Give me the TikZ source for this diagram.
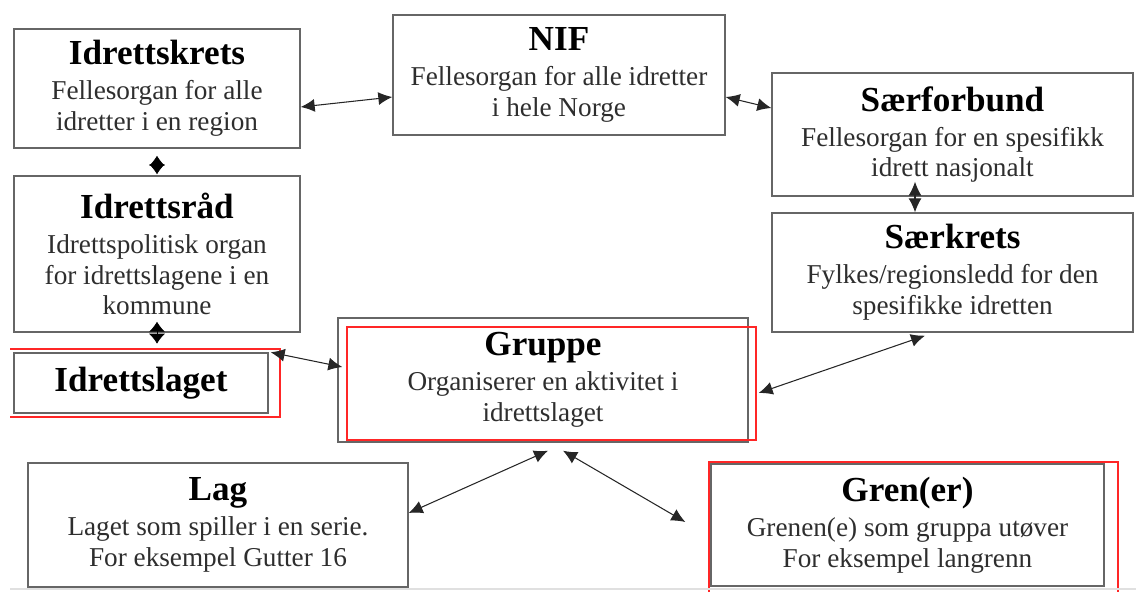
\documentclass[tikz,border=0pt]{standalone}
\usepackage{fontspec}
\setmainfont{Liberation Serif}
\usetikzlibrary{arrows.meta,positioning}
\tikzset{>={Latex[width=2.6mm,length=2.8mm]}}
\tikzset{unit/.style={shape=rectangle, draw=black!60, line width=.8pt,
    fill=white, align=center, inner sep=0pt, text=black!82,
    font=\fontsize{15.5}{17.5}\selectfont}}
\tikzset{link/.style={<->, draw=black!85, line width=.6pt}}
\tikzset{joint/.style={{Latex[width=3.2mm,length=2mm]}-{Latex[width=3.2mm,length=2mm]},
    draw=black}}
\tikzset{frame/.style={draw=red!85, line width=.9pt}}
\newcommand{\tittel}[1]{{\color{black}\fontsize{20}{22}\selectfont\bfseries #1}}

\begin{document}
\begin{tikzpicture}[x=0.02cm, y=-0.02cm]
    \useasboundingbox (0,0) rectangle (1136,592);
    % venstre kolonne
    \node[unit, minimum width=5.72cm, minimum height=2.38cm] (krets) at (157,88.5)
      {\tittel{Idrettskrets}\\[2.5pt] Fellesorgan for alle\\ idretter i en region};
    \node[unit, minimum width=5.72cm, minimum height=3.12cm] (raad) at (157,254)
      {\tittel{Idrettsråd}\\[2.5pt] Idrettspolitisk organ\\ for idrettslagene i en\\ kommune};
    \node[unit, minimum width=5.08cm, minimum height=1.20cm] (laget) at (141,383)
      {\tittel{Idrettslaget}};
    % midten
    \node[unit, minimum width=6.64cm, minimum height=2.40cm] (nif) at (559,75)
      {\tittel{NIF}\\[2.5pt] Fellesorgan for alle idretter\\ i hele Norge};
    \node[unit, minimum width=8.20cm, minimum height=2.48cm] (gruppe) at (543,380)
      {\tittel{Gruppe}\\[2.5pt] Organiserer en aktivitet i\\ idrettslaget};
    \node[unit, minimum width=7.60cm, minimum height=2.48cm] (lag) at (218,525)
      {\tittel{Lag}\\[2.5pt] Laget som spiller i en serie.\\ For eksempel Gutter 16};
    % hoyre kolonne
    \node[unit, minimum width=7.22cm, minimum height=2.46cm] (forbund) at (952.5,134.5)
      {\tittel{Særforbund}\\[2.5pt] Fellesorgan for en spesifikk\\ idrett nasjonalt};
    \node[unit, minimum width=7.22cm, minimum height=2.38cm] (saerkrets) at (952.5,272.5)
      {\tittel{Særkrets}\\[2.5pt] Fylkes/regionsledd for den\\ spesifikke idretten};
    \node[unit, minimum width=7.86cm, minimum height=2.44cm] (gren) at (907.5,525)
      {\tittel{Gren(er)}\\[2.5pt] Grenen(e) som gruppa utøver\\ For eksempel langrenn};

    % markeringer
    \draw[frame] (10,349) -- (280,349) -- (280,417) -- (10,417);
    \draw[frame] (347,327) rectangle (756,440);
    \draw[frame] (709,592) -- (709,462) -- (1118,462) -- (1118,592);
    \draw[black!12, line width=.8pt] (10,589) -- (1136,589);

    % forbindelser
    \draw[joint] ([yshift=-0.14cm]krets.south) -- ([yshift=0.02cm]raad.north);
    \draw[joint] ([yshift=0.22cm]raad.south) -- ([yshift=-0.22cm]raad.south);
    \draw[link] ([yshift=-0.37cm]krets.east) -- ([yshift=-0.44cm]nif.west);
    \draw[link] ([yshift=-0.44cm]nif.east) -- ([yshift=0.53cm]forbund.west);
    \draw[link] ([xshift=-0.75cm, yshift=0.30cm]forbund.south)
      -- ([xshift=-0.75cm]saerkrets.north);
    \draw[link] ([xshift=0.04cm]laget.north east) -- ([xshift=0.10cm, yshift=0.26cm]gruppe.west);
    \draw[link] ([xshift=-0.55cm, yshift=-0.06cm]saerkrets.south)
      -- ([xshift=0.20cm, yshift=-0.26cm]gruppe.east);
    \draw[link] ([xshift=0.10cm, yshift=-0.16cm]gruppe.south) -- ([yshift=0.24cm]lag.east);
    \draw[link] ([xshift=0.40cm, yshift=-0.16cm]gruppe.south)
      -- ([xshift=-0.50cm, yshift=0.06cm]gren.west);
\end{tikzpicture}
\end{document}
